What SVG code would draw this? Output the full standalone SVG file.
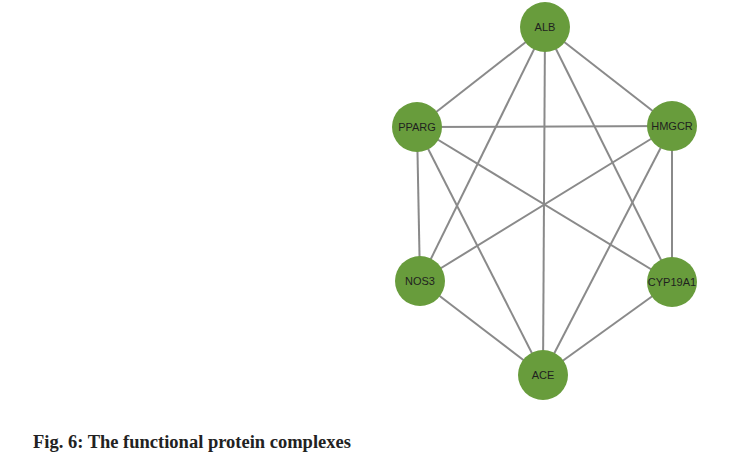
<svg xmlns="http://www.w3.org/2000/svg" width="755" height="472" viewBox="0 0 755 472">
<style>
.e{stroke:#8a8a8a;stroke-width:2;fill:none}
.n{fill:#689c3c}
.t{font-family:"Liberation Sans",Arial,sans-serif;font-size:11px;fill:#1f1f1f;text-anchor:middle;dominant-baseline:central}
.cap{font-family:"Liberation Serif","Times New Roman",serif;font-weight:bold;font-size:18.5px;fill:#222}
</style>
<rect width="755" height="472" fill="#fff"/>
<g id="edges">
<line class="e" x1="545" y1="27" x2="417" y2="127"/>
<line class="e" x1="545" y1="27" x2="672" y2="126"/>
<line class="e" x1="545" y1="27" x2="420" y2="281"/>
<line class="e" x1="545" y1="27" x2="543" y2="375"/>
<line class="e" x1="545" y1="27" x2="672" y2="282"/>
<line class="e" x1="417" y1="127" x2="672" y2="126"/>
<line class="e" x1="417" y1="127" x2="420" y2="281"/>
<line class="e" x1="417" y1="127" x2="543" y2="375"/>
<line class="e" x1="417" y1="127" x2="672" y2="282"/>
<line class="e" x1="672" y1="126" x2="420" y2="281"/>
<line class="e" x1="672" y1="126" x2="543" y2="375"/>
<line class="e" x1="672" y1="126" x2="672" y2="282"/>
<line class="e" x1="420" y1="281" x2="543" y2="375"/>
<line class="e" x1="672" y1="282" x2="543" y2="375"/>
</g>
<g id="ALB"><circle class="n" cx="545" cy="27" r="25"/><text class="t" x="545" y="27">ALB</text></g>
<g id="PPARG"><circle class="n" cx="417" cy="127" r="25"/><text class="t" x="417" y="127">PPARG</text></g>
<g id="HMGCR"><circle class="n" cx="672" cy="126" r="25"/><text class="t" x="672" y="126">HMGCR</text></g>
<g id="NOS3"><circle class="n" cx="420" cy="281" r="25"/><text class="t" x="420" y="281">NOS3</text></g>
<g id="CYP19A1"><circle class="n" cx="672" cy="282" r="25"/><text class="t" x="672" y="282">CYP19A1</text></g>
<g id="ACE"><circle class="n" cx="543" cy="375" r="25"/><text class="t" x="543" y="375">ACE</text></g>
<text class="cap" x="33" y="448">Fig. 6: The functional protein complexes</text>
</svg>
